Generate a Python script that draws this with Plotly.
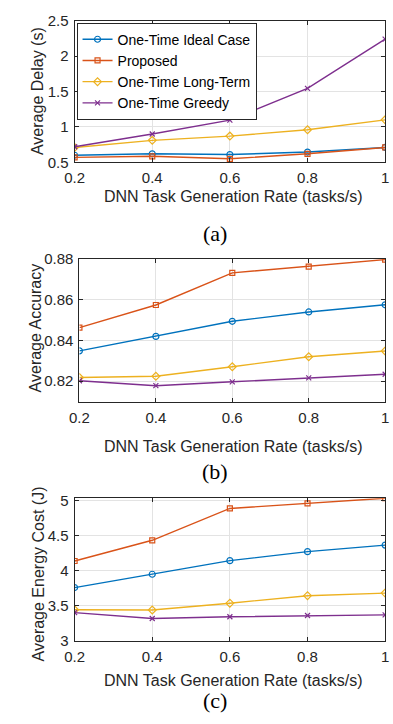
import plotly.graph_objects as go

W, H = 393, 724

rates = [0.2, 0.4, 0.6, 0.8, 1.0]
x_ticks = [0.2, 0.4, 0.6, 0.8, 1.0]
x_ticklabels = ["0.2", "0.4", "0.6", "0.8", "1"]

series_names = ["One-Time Ideal Case", "Proposed", "One-Time Long-Term", "One-Time Greedy"]

# (a) Average Delay (s)
delay_ideal = [0.60, 0.62, 0.61, 0.645, 0.71]
delay_proposed = [0.57, 0.585, 0.55, 0.62, 0.71]
delay_longterm = [0.71, 0.81, 0.87, 0.96, 1.10]
delay_greedy = [0.72, 0.90, 1.095, 1.545, 2.24]

# (b) Average Accuracy
acc_ideal = [0.8349, 0.8420, 0.8494, 0.8540, 0.8575]
acc_proposed = [0.8463, 0.8574, 0.8732, 0.8763, 0.8797]
acc_longterm = [0.8218, 0.8224, 0.8271, 0.8320, 0.8348]
acc_greedy = [0.8202, 0.8178, 0.8197, 0.8216, 0.8234]

# (c) Average Energy Cost (J)
energy_ideal = [3.76, 3.95, 4.144, 4.273, 4.366]
energy_proposed = [4.139, 4.435, 4.889, 4.963, 5.035]
energy_longterm = [3.444, 3.44, 3.537, 3.644, 3.681]
energy_greedy = [3.403, 3.319, 3.343, 3.361, 3.37]

delay_ticks = [0.5, 1, 1.5, 2, 2.5]
delay_ticklabels = ["0.5", "1", "1.5", "2", "2.5"]
acc_ticks = [0.82, 0.84, 0.86, 0.88]
acc_ticklabels = ["0.82", "0.84", "0.86", "0.88"]
energy_ticks = [3, 3.5, 4, 4.5, 5]
energy_ticklabels = ["3", "3.5", "4", "4.5", "5"]

colors = ["#0072BD", "#D95319", "#EDB120", "#7E2F8E"]
symbols = ["circle-open", "square-open", "diamond-open", "x-thin-open"]
msizes = [6, 5, 6, 5]

panels = [
    ([delay_ideal, delay_proposed, delay_longterm, delay_greedy], "", True),
    ([acc_ideal, acc_proposed, acc_longterm, acc_greedy], "2", False),
    ([energy_ideal, energy_proposed, energy_longterm, energy_greedy], "3", False),
]

fig = go.Figure()
for vals, ax, show in panels:
    for i, v in enumerate(vals):
        fig.add_trace(go.Scatter(
            x=rates, y=v, mode="lines+markers", name=series_names[i],
            showlegend=show, xaxis="x" + ax, yaxis="y" + ax,
            line=dict(color=colors[i], width=1.4),
            marker=dict(symbol=symbols[i], size=msizes[i], color=colors[i],
                        line=dict(color=colors[i], width=1.2)),
        ))

def px_x(p):
    return p / W

def px_y(p):
    return 1 - p / H

FONT = "Arial"
axis_col = "#262626"
grid_col = "#e3e3e3"
tickfont = dict(family=FONT, size=15, color=axis_col)

def xaxis(l, r, anchor):
    return dict(domain=[px_x(l), px_x(r)], range=[0.2, 1.0], anchor=anchor,
                tickvals=x_ticks, ticktext=x_ticklabels, showgrid=True,
                gridcolor=grid_col, gridwidth=1, showline=True, linecolor=axis_col,
                linewidth=1, mirror="ticks", ticks="inside", ticklen=4,
                tickcolor=axis_col, tickfont=tickfont, zeroline=False,
                ticklabelstandoff=2, ticklabeloverflow="allow")

def yaxis(t, b, anchor, rng, tv, tt):
    return dict(domain=[px_y(b), px_y(t)], range=rng, anchor=anchor,
                tickvals=tv, ticktext=tt, showgrid=True, gridcolor=grid_col,
                gridwidth=1, showline=True, linecolor=axis_col, linewidth=1,
                mirror="ticks", ticks="inside", ticklen=4, tickcolor=axis_col,
                tickfont=tickfont, zeroline=False, ticklabelstandoff=2,
                ticklabeloverflow="allow")

fig.update_layout(
    width=W, height=H, margin=dict(l=0, r=0, t=0, b=0),
    paper_bgcolor="white", plot_bgcolor="white",
    xaxis=xaxis(67, 389, "y"),
    yaxis=yaxis(12, 157, "x", [0.5, 2.5], delay_ticks, delay_ticklabels),
    xaxis2=xaxis(72, 389, "y2"),
    yaxis2=yaxis(256, 402, "x2", [0.81, 0.88], acc_ticks, acc_ticklabels),
    xaxis3=xaxis(67, 389, "y3"),
    yaxis3=yaxis(501, 647, "x3", [3, 5.035], energy_ticks, energy_ticklabels),
    showlegend=True,
    legend=dict(x=px_x(69), y=px_y(14), xanchor="left", yanchor="top",
                bgcolor="white", bordercolor=axis_col, borderwidth=1,
                font=dict(family=FONT, size=14, color="black"),
                tracegroupgap=0, itemwidth=30),
)

title_font = dict(family=FONT, size=16, color=axis_col)
cap_font = dict(family="Liberation Serif", size=22, color="black")

ytitles = [("Average Delay (s)", 28, 84), ("Average Accuracy", 26, 327),
           ("Average Energy Cost (J)", 29, 578)]
xtitle_y = [192, 448, 688]
captions = [("(a)", 230), ("(b)", 474), ("(c)", 708)]

for text, xc, yc in ytitles:
    fig.add_annotation(text=text, x=px_x(xc), y=px_y(yc), xref="paper", yref="paper",
                       textangle=-90, showarrow=False, font=title_font,
                       xanchor="center", yanchor="middle")
for yc in xtitle_y:
    fig.add_annotation(text="DNN Task Generation Rate (tasks/s)", x=px_x(231), y=px_y(yc),
                       xref="paper", yref="paper", showarrow=False, font=title_font,
                       xanchor="center", yanchor="middle")
for text, yc in captions:
    fig.add_annotation(text=text, x=px_x(213), y=px_y(yc), xref="paper", yref="paper",
                       showarrow=False, font=cap_font, xanchor="center", yanchor="middle")

fig.write_html("out.html")
